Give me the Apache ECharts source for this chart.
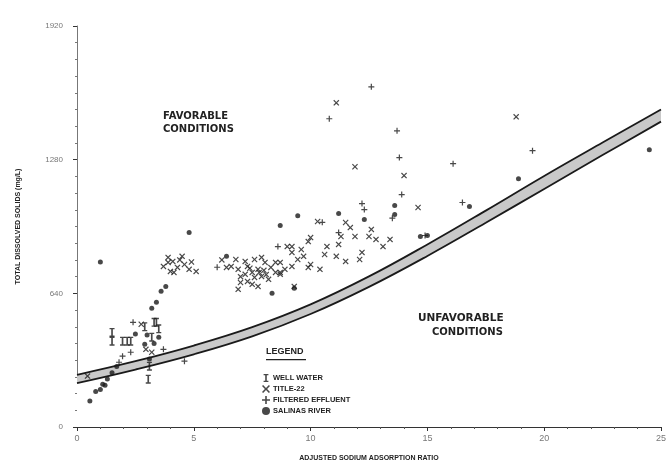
<!DOCTYPE html>
<html>
<head>
<meta charset="utf-8">
<script src="https://cdn.jsdelivr.net/npm/echarts@6/dist/echarts.min.js"></script>
<style>
html,body{margin:0;padding:0;background:#fff;}
#c{width:669px;height:467px;}
</style>
</head>
<body>
<div id="c"></div>
<script>
// ---- data ----
var xTicks = [0, 5, 10, 15, 20, 25];
var yTicks = [0, 640, 1280, 1920];
var bandX = [0, 2.5, 5, 7.5, 10, 12.5, 15, 17.5, 20, 22.5, 25];
var bandUpper = [250, 315, 390, 478, 587, 721, 874, 1036, 1202, 1362, 1520];
var bandLower = [210, 275, 348, 434, 541, 671, 819, 978, 1140, 1302, 1462];

var wellWater = [[1.5,453],[1.5,411],[1.95,411],[2.15,411],[2.3,411],[3.3,501],[3.4,501],[3.05,229],[3.1,291],[3.5,470],[2.9,480],[3.2,430]];
var title22 = [[3.9,812],[4.1,793],[4.5,817],[4.6,778],[4.0,745],[4.15,740],[3.7,769],[5.1,745],[4.8,755],[4.3,764],[3.9,788],[4.4,800],[4.9,790],
  [6.4,764],[6.8,802],[7.2,793],[6.9,755],[7.3,769],[7.6,802],[7.9,812],[8.05,788],[8.3,764],[7.75,755],[7.5,740],[7.2,731],[7.6,716],[7.9,721],[7.3,697],[7.0,692],[6.9,659],[7.75,673],[7.5,683],[8.2,707],[8.5,740],[6.6,769],[8.7,740],[8.5,788],[7.8,740],[8.0,750],[7.4,760],[8.1,730],[7.0,720],[6.2,800],
  [9.2,864],[9.2,836],[10.3,984],[11.5,979],[11.7,955],[11.9,912],[12.6,946],[12.5,912],[12.8,898],[13.4,898],[13.1,864],[12.2,836],[12.1,802],[11.3,912],[11.2,874],[10.7,864],[10.6,826],[11.1,817],[11.5,793],[10.0,907],[9.9,888],[9.6,850],[9.7,817],[9.45,802],[9.0,864],[10.0,778],[9.9,764],[10.4,755],[9.2,769],[8.9,755],[8.7,788],[8.7,731],[9.3,673],
  [11.1,1552],[11.9,1246],[14.0,1204],[14.6,1051],[18.8,1485],
  [0.45,244],[2.75,492],[2.95,372],[3.2,358]];
var filteredEffluent = [[10.8,1476],[12.6,1629],[13.7,1418],[13.8,1290],[16.1,1261],[19.5,1323],[13.9,1113],[12.2,1070],[12.3,1041],[16.5,1075],[11.2,931],[8.6,864],[6.0,765],[2.4,501],[1.95,339],[1.8,310],[2.3,358],[4.6,315],[3.7,372],[13.5,1000],[14.9,917],[10.5,980]];
var salinasRiver = [[1.0,790],[0.55,124],[1.0,180],[1.2,200],[1.3,230],[1.5,260],[1.7,290],[2.5,445],[3.2,568],[3.4,597],[3.6,650],[2.9,396],[3.1,325],[4.8,931],[3.8,673],[6.4,817],[8.7,965],[8.35,640],[9.3,664],[9.45,1012],[11.2,1022],[13.6,1060],[13.6,1017],[14.7,912],[15.0,917],[12.3,993],[18.9,1189],[16.8,1056],[24.5,1328],[3.0,440],[3.3,400],[3.5,430],[1.1,205],[0.8,170]];

var seriesNames = ['WELL WATER', 'TITLE-22', 'FILTERED EFFLUENT', 'SALINAS RIVER'];

// ---- symbols ----
var symI = 'path://M0,0h6v1.5h-2v7h2v1.5h-6v-1.5h2v-7h-2z';
var symPlus = 'path://M4,0h2v4h4v2h-4v4h-2v-4h-4v-2h4z';
var symX = 'path://M0,1.4L1.4,0L5,3.6L8.6,0L10,1.4L6.4,5L10,8.6L8.6,10L5,6.4L1.4,10L0,8.6L3.6,5Z';
var ink = '#1a1a1a';
var font = '"Liberation Sans", "DejaVu Sans", sans-serif';
var wideFont = '"DejaVu Sans", "Liberation Sans", sans-serif';

function zip(xs, ys){ return xs.map(function(x,i){ return [x, ys[i]]; }); }

var chart = echarts.init(document.getElementById('c'), null, {renderer:'canvas'});
chart.setOption({
  animation: false,
  backgroundColor: '#fff',
  grid: {left: 77, right: 3, top: 26, bottom: 39},
  xAxis: {
    type: 'value', min: xTicks[0], max: xTicks[xTicks.length-1], interval: 5,
    name: 'ADJUSTED SODIUM ADSORPTION RATIO', nameLocation: 'middle', nameGap: 28,
    nameTextStyle: {fontFamily: font, fontSize: 7, fontWeight: 'bold', color: '#222'},
    axisLine: {lineStyle: {color: '#333', width: 1}},
    axisTick: {show: true, inside: false, length: 4, lineStyle: {color: '#333'}},
    minorTick: {show: true, splitNumber: 5, length: 2, lineStyle: {color: '#555'}},
    axisLabel: {fontFamily: font, fontSize: 9, color: '#777', margin: 7},
    splitLine: {show: false}
  },
  yAxis: {
    type: 'value', min: yTicks[0], max: yTicks[yTicks.length-1], interval: 640,
    name: 'TOTAL DISSOLVED SOLIDS (mg/L)', nameLocation: 'middle', nameGap: 55,
    nameTextStyle: {fontFamily: font, fontSize: 7, fontWeight: 'bold', color: '#222'},
    axisLine: {show: true, lineStyle: {color: '#777', width: 1}},
    axisTick: {show: true, length: 4, lineStyle: {color: '#333'}},
    minorTick: {show: true, splitNumber: 8, length: 2, lineStyle: {color: '#777'}},
    axisLabel: {fontFamily: font, fontSize: 8, color: '#777', margin: 14, formatter: function(v){ return String(v); }},
    splitLine: {show: false}
  },
  legend: {
    orient: 'vertical', left: 257, top: 369, itemGap: 3, itemWidth: 8, itemHeight: 8,
    data: seriesNames, z: 20,
    textStyle: {fontFamily: font, fontSize: 7.5, fontWeight: 'bold', color: '#222', padding: [0,0,0,-2]},
    selectedMode: false
  },
  graphic: [
    {type: 'text', left: 266, top: 347, z: 100, style: {text: 'LEGEND', fontFamily: font, fontSize: 9, fontWeight: 'bold', fill: '#222'}},
    {type: 'rect', left: 266, top: 359, z: 100, shape: {width: 40, height: 1.2}, style: {fill: '#222'}},
    {type: 'text', left: 163, top: 110, z: 100, style: {text: 'FAVORABLE\nCONDITIONS', fontFamily: wideFont, fontSize: 10, fontWeight: 'bold', fill: '#222', lineHeight: 13}},
    {type: 'text', left: 418, top: 313, z: 100, style: {text: 'UNFAVORABLE', fontFamily: wideFont, fontSize: 10.5, fontWeight: 'bold', fill: '#222'}},
    {type: 'text', left: 432, top: 327, z: 100, style: {text: 'CONDITIONS', fontFamily: wideFont, fontSize: 10, fontWeight: 'bold', fill: '#222'}}
  ],
  series: [
    {type: 'line', name: 'bandUpper', data: zip(bandX, bandUpper), smooth: 0.4, symbol: 'none',
      lineStyle: {color: ink, width: 1.8}, areaStyle: {color: '#c9c9c9', origin: 'start', opacity: 1}, z: 1, silent: true},
    {type: 'line', name: 'bandLower', data: zip(bandX, bandLower), smooth: 0.4, symbol: 'none',
      lineStyle: {color: ink, width: 1.8}, areaStyle: {color: '#ffffff', origin: 'start', opacity: 1}, z: 2, silent: true},
    {type: 'scatter', name: seriesNames[0], data: wellWater, symbol: symI, symbolSize: [5, 9], itemStyle: {color: ink}, z: 5},
    {type: 'scatter', name: seriesNames[1], data: title22, symbol: symX, symbolSize: 6, itemStyle: {color: ink}, z: 5},
    {type: 'scatter', name: seriesNames[2], data: filteredEffluent, symbol: symPlus, symbolSize: 6, itemStyle: {color: ink}, z: 5},
    {type: 'scatter', name: seriesNames[3], data: salinasRiver, symbol: 'circle', symbolSize: 5, itemStyle: {color: ink}, z: 5}
  ]
});
</script>
</body>
</html>
